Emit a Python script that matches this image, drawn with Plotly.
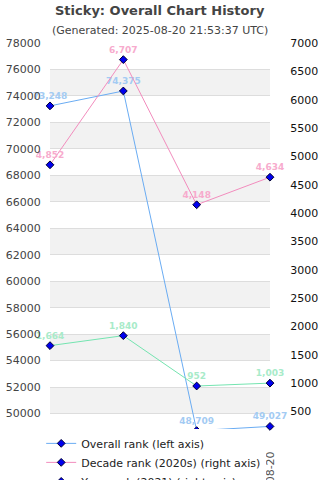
import numpy as np
import plotly.graph_objects as go

dates = ["2021-12-31", "2022-12-31", "2023-12-31", "2025-08-20"]
overall_rank = [73248, 74375, 48709, 49027]
decade_rank = [4852, 6707, 4148, 4634]
year_rank = [1664, 1840, 952, 1003]

left_ticks = list(range(50000, 78001, 2000))
right_ticks = list(range(500, 7001, 500))
band_starts = list(range(50000, 76000, 4000))

font = "DejaVu Sans"

fig = go.Figure()

def add_series(name, y, line_color, text_color, axis):
    fig.add_trace(go.Scatter(
        x=dates, y=y, name=name, yaxis=axis,
        mode="lines+markers+text",
        line=dict(color=line_color, width=1),
        marker=dict(symbol="diamond", size=6, color="#0000ee",
                    line=dict(color="#000033", width=1)),
        texttemplate="<b>%{y:,}</b>",
        textposition="top center",
        textfont=dict(family=font, size=9, color=text_color),
        cliponaxis=False,
    ))

add_series("Overall rank (left axis)", overall_rank, "#6aacf3", "#a3cbf3", "y")
add_series("Decade rank (2020s) (right axis)", decade_rank, "#f28cbd", "#f7abcd", "y2")
add_series("Year rank (2021) (right axis)", year_rank, "#74e4b0", "#a8ebc9", "y2")

shapes = [dict(type="rect", xref="paper", yref="y", x0=0, x1=1, y0=b, y1=b + 2000,
               fillcolor="#f2f2f2", line=dict(width=0), layer="below")
          for b in band_starts]

fig.update_layout(
    width=320, height=480,
    margin=dict(l=50, r=50, t=43, b=40, autoexpand=False),
    paper_bgcolor="white", plot_bgcolor="white",
    font=dict(family=font, size=11, color="#444"),
    showlegend=True,
    legend=dict(orientation="v", x=-0.04, xanchor="left", y=0.028, yanchor="top",
                font=dict(family=font, size=11, color="#222"),
                bgcolor="white", tracegroupgap=0),
    xaxis=dict(type="category", range=[0, 3], tickvals=[dates[0], dates[-1]],
               tickangle=-90, showgrid=True, gridcolor="#dddddd", zeroline=False,
               ticks="outside", ticklen=6, tickcolor="rgba(0,0,0,0)", automargin=False,
               tickfont=dict(family=font, size=11, color="#555")),
    yaxis=dict(range=[48000, 78000], tickvals=left_ticks, tickformat="d", showgrid=True,
               gridcolor="#dddddd", zeroline=False, ticks="outside", ticklen=6,
               tickcolor="rgba(0,0,0,0)", automargin=False,
               tickfont=dict(family=font, size=11, color="#444")),
    yaxis2=dict(range=[0, 7000], tickvals=right_ticks, tickformat="d", overlaying="y",
                side="right", showgrid=False, zeroline=False, ticks="outside", ticklen=17,
                tickcolor="rgba(0,0,0,0)", automargin=False,
                tickfont=dict(family=font, size=11, color="#111")),
    shapes=shapes,
    annotations=[
        dict(text="<b>Sticky: Overall Chart History</b>", xref="paper", yref="paper",
             x=0.5, y=1 + 32 / 397, xanchor="center", yanchor="middle", showarrow=False,
             font=dict(family=font, size=13, color="#444")),
        dict(text="(Generated: 2025-08-20 21:53:37 UTC)", xref="paper", yref="paper",
             x=0.5, y=1 + 13 / 397, xanchor="center", yanchor="middle", showarrow=False,
             font=dict(family=font, size=11, color="#444")),
    ],
)

fig.write_html("out.html")
